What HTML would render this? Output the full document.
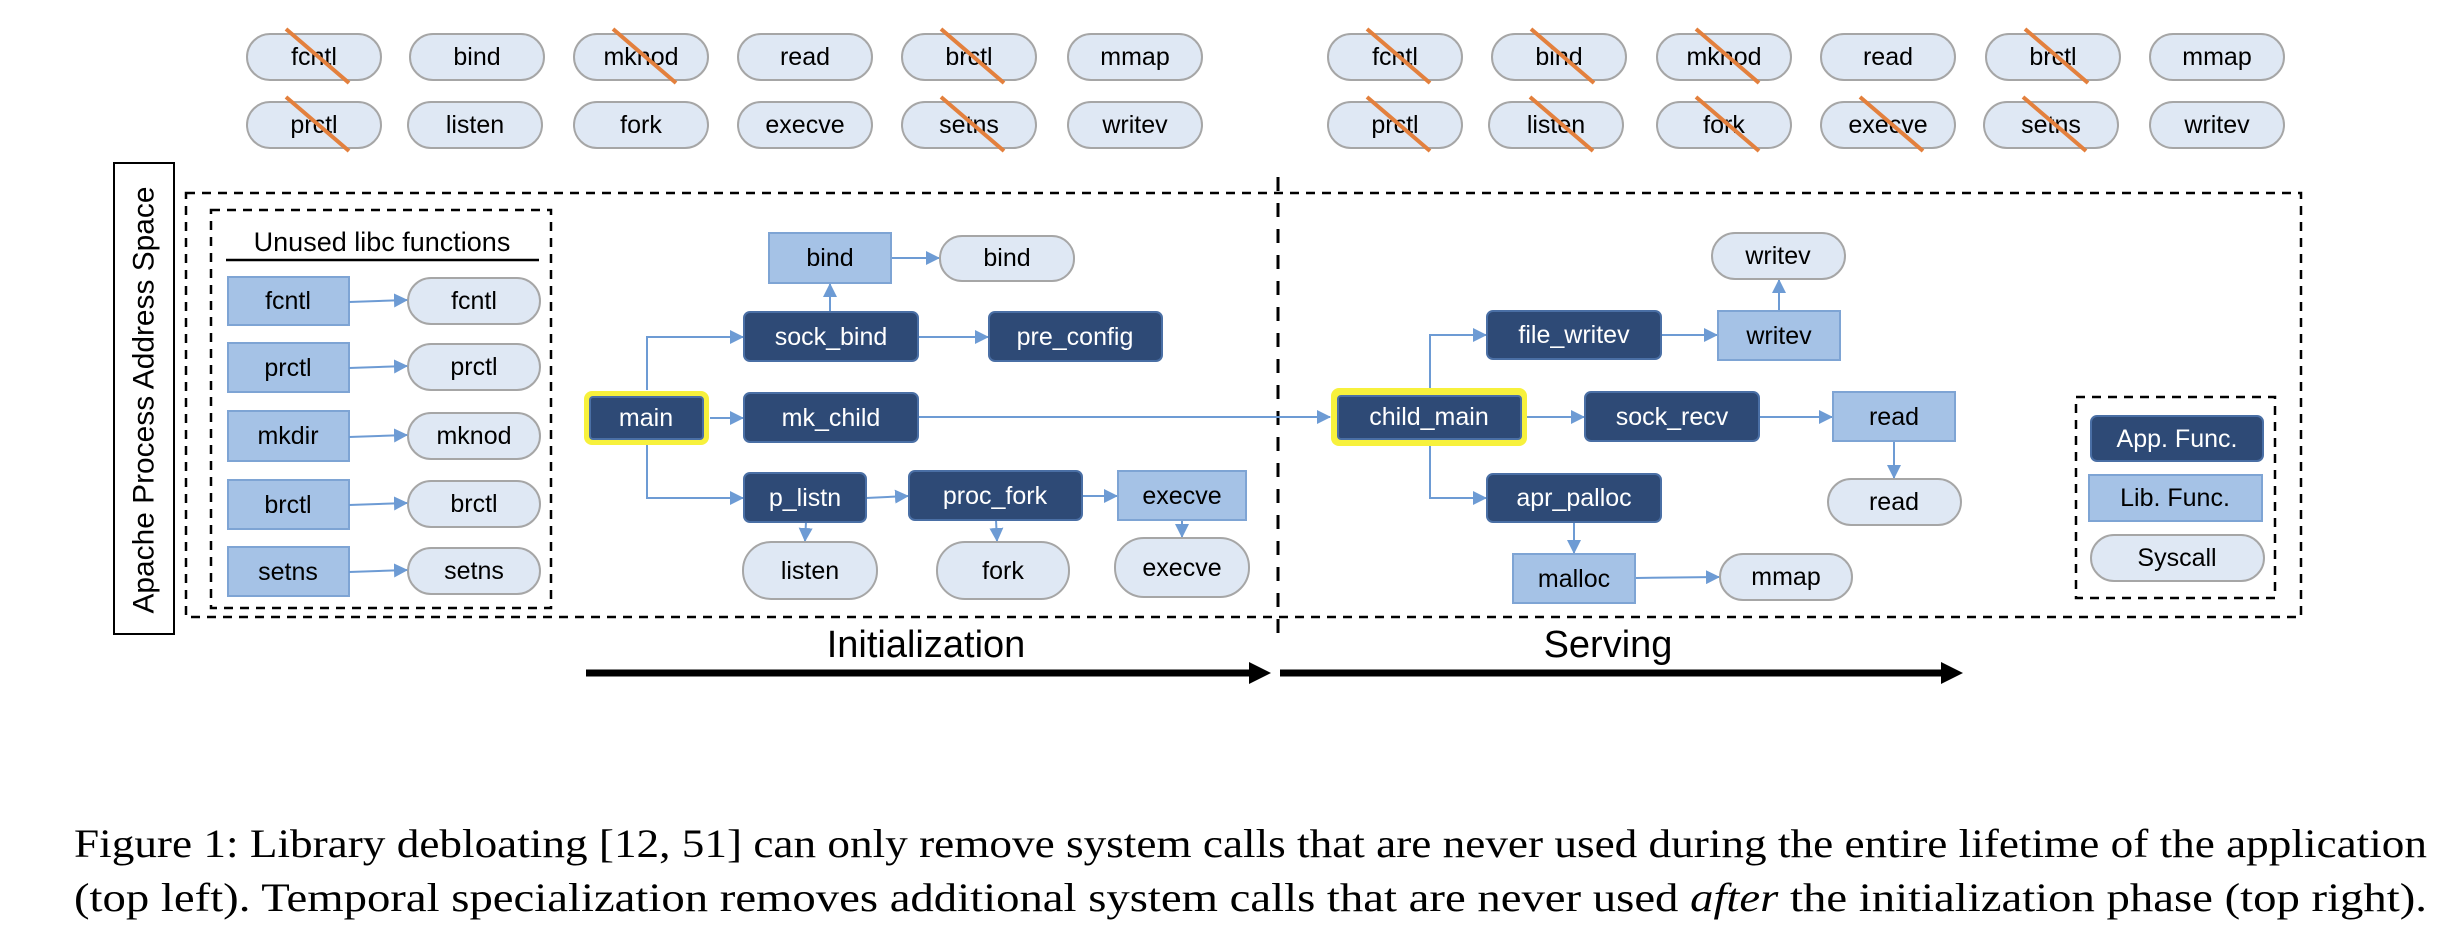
<!DOCTYPE html>
<html><head><meta charset="utf-8"><style>
html,body{margin:0;padding:0;background:#fff;}
svg{display:block;}
.t{font-family:"Liberation Sans",sans-serif;font-size:25px;text-anchor:middle;dominant-baseline:central;}
.w{fill:#fff;}
.k{fill:#000;}
.app{fill:#2e4a76;stroke:#4a6fa5;stroke-width:2;}
.lib{fill:#a5c2e6;stroke:#7ea4d4;stroke-width:2;}
.sys{fill:#dfe8f4;stroke:#a6a6a6;stroke-width:2;}
.c{stroke:#6d9bd4;stroke-width:2;fill:none;}
.x{stroke:#e3803d;stroke-width:4;}
.d{stroke:#000;stroke-width:2.5;fill:none;stroke-dasharray:9 7;}
</style></head><body>
<svg width="2458" height="946" viewBox="0 0 2458 946" xmlns="http://www.w3.org/2000/svg">
<defs>
<marker id="a2" markerWidth="14" markerHeight="14" refX="13" refY="7" orient="auto" markerUnits="userSpaceOnUse" viewBox="0 0 14 14"><path d="M0,0 L14,7 L0,14 z" fill="#6d9bd4"/></marker>
</defs>

<g>
<rect class="sys" x="247" y="34" width="134" height="46" rx="23"/><text class="t k" x="314" y="57">fcntl</text>
<rect class="sys" x="410" y="34" width="134" height="46" rx="23"/><text class="t k" x="477" y="57">bind</text>
<rect class="sys" x="574" y="34" width="134" height="46" rx="23"/><text class="t k" x="641" y="57">mknod</text>
<rect class="sys" x="738" y="34" width="134" height="46" rx="23"/><text class="t k" x="805" y="57">read</text>
<rect class="sys" x="902" y="34" width="134" height="46" rx="23"/><text class="t k" x="969" y="57">brctl</text>
<rect class="sys" x="1068" y="34" width="134" height="46" rx="23"/><text class="t k" x="1135" y="57">mmap</text>
<rect class="sys" x="247" y="102" width="134" height="46" rx="23"/><text class="t k" x="314" y="125">prctl</text>
<rect class="sys" x="408" y="102" width="134" height="46" rx="23"/><text class="t k" x="475" y="125">listen</text>
<rect class="sys" x="574" y="102" width="134" height="46" rx="23"/><text class="t k" x="641" y="125">fork</text>
<rect class="sys" x="738" y="102" width="134" height="46" rx="23"/><text class="t k" x="805" y="125">execve</text>
<rect class="sys" x="902" y="102" width="134" height="46" rx="23"/><text class="t k" x="969" y="125">setns</text>
<rect class="sys" x="1068" y="102" width="134" height="46" rx="23"/><text class="t k" x="1135" y="125">writev</text>
<line class="x" x1="286" y1="29" x2="349" y2="83"/>
<line class="x" x1="613" y1="29" x2="676" y2="83"/>
<line class="x" x1="941" y1="29" x2="1004" y2="83"/>
<line class="x" x1="286" y1="97" x2="349" y2="151"/>
<line class="x" x1="941" y1="97" x2="1004" y2="151"/>
</g>
<g>
<rect class="sys" x="1328" y="34" width="134" height="46" rx="23"/><text class="t k" x="1395" y="57">fcntl</text>
<rect class="sys" x="1492" y="34" width="134" height="46" rx="23"/><text class="t k" x="1559" y="57">bind</text>
<rect class="sys" x="1657" y="34" width="134" height="46" rx="23"/><text class="t k" x="1724" y="57">mknod</text>
<rect class="sys" x="1821" y="34" width="134" height="46" rx="23"/><text class="t k" x="1888" y="57">read</text>
<rect class="sys" x="1986" y="34" width="134" height="46" rx="23"/><text class="t k" x="2053" y="57">brctl</text>
<rect class="sys" x="2150" y="34" width="134" height="46" rx="23"/><text class="t k" x="2217" y="57">mmap</text>
<rect class="sys" x="1328" y="102" width="134" height="46" rx="23"/><text class="t k" x="1395" y="125">prctl</text>
<rect class="sys" x="1489" y="102" width="134" height="46" rx="23"/><text class="t k" x="1556" y="125">listen</text>
<rect class="sys" x="1657" y="102" width="134" height="46" rx="23"/><text class="t k" x="1724" y="125">fork</text>
<rect class="sys" x="1821" y="102" width="134" height="46" rx="23"/><text class="t k" x="1888" y="125">execve</text>
<rect class="sys" x="1984" y="102" width="134" height="46" rx="23"/><text class="t k" x="2051" y="125">setns</text>
<rect class="sys" x="2150" y="102" width="134" height="46" rx="23"/><text class="t k" x="2217" y="125">writev</text>
<line class="x" x1="1367" y1="29" x2="1430" y2="83"/>
<line class="x" x1="1531" y1="29" x2="1594" y2="83"/>
<line class="x" x1="1696" y1="29" x2="1759" y2="83"/>
<line class="x" x1="2025" y1="29" x2="2088" y2="83"/>
<line class="x" x1="1367" y1="97" x2="1430" y2="151"/>
<line class="x" x1="1530" y1="97" x2="1593" y2="151"/>
<line class="x" x1="1696" y1="97" x2="1759" y2="151"/>
<line class="x" x1="1860" y1="97" x2="1923" y2="151"/>
<line class="x" x1="2023" y1="97" x2="2086" y2="151"/>
</g>

<rect x="114" y="163" width="60" height="471" fill="#fff" stroke="#000" stroke-width="2"/>
<text class="t k" x="144" y="400" style="font-size:30px" transform="rotate(-90 144 400)" textLength="427" lengthAdjust="spacingAndGlyphs">Apache Process Address Space</text>

<rect class="d" x="186" y="193" width="2115" height="424"/>
<line x1="1278" y1="177" x2="1278" y2="645" stroke="#000" stroke-width="3" stroke-dasharray="14 12"/>
<rect class="d" x="211" y="210" width="340" height="398"/>
<rect class="d" x="2076" y="397" width="199" height="201"/>

<text class="t k" x="382" y="242" style="font-size:27px">Unused libc functions</text>
<line x1="226" y1="260" x2="539" y2="260" stroke="#000" stroke-width="2.5"/>
<g>
<rect class="lib" x="228" y="277" width="121" height="48"/><text class="t k" x="288" y="301">fcntl</text>
<rect class="sys" x="408" y="278" width="132" height="46" rx="23"/><text class="t k" x="474" y="301">fcntl</text>
<rect class="lib" x="228" y="343" width="121" height="49"/><text class="t k" x="288" y="368">prctl</text>
<rect class="sys" x="408" y="344" width="132" height="46" rx="23"/><text class="t k" x="474" y="367">prctl</text>
<rect class="lib" x="228" y="411" width="121" height="50"/><text class="t k" x="288" y="436">mkdir</text>
<rect class="sys" x="408" y="413" width="132" height="46" rx="23"/><text class="t k" x="474" y="436">mknod</text>
<rect class="lib" x="228" y="480" width="121" height="49"/><text class="t k" x="288" y="505">brctl</text>
<rect class="sys" x="408" y="481" width="132" height="46" rx="23"/><text class="t k" x="474" y="504">brctl</text>
<rect class="lib" x="228" y="547" width="121" height="49"/><text class="t k" x="288" y="572">setns</text>
<rect class="sys" x="408" y="548" width="132" height="46" rx="23"/><text class="t k" x="474" y="571">setns</text>
<line class="c" x1="349" y1="302" x2="407" y2="300" marker-end="url(#a2)"/>
<line class="c" x1="349" y1="368" x2="407" y2="366" marker-end="url(#a2)"/>
<line class="c" x1="349" y1="437" x2="407" y2="435" marker-end="url(#a2)"/>
<line class="c" x1="349" y1="505" x2="407" y2="503" marker-end="url(#a2)"/>
<line class="c" x1="349" y1="572" x2="407" y2="570" marker-end="url(#a2)"/>
</g>

<g>
<path class="c" d="M647,390 V337 H743" marker-end="url(#a2)"/>
<path class="c" d="M647,445 V498 H743" marker-end="url(#a2)"/>
<line class="c" x1="710" y1="418" x2="743" y2="418" marker-end="url(#a2)"/>
<line class="c" x1="918" y1="417" x2="1330" y2="417" marker-end="url(#a2)"/>
<line class="c" x1="830" y1="312" x2="830" y2="284" marker-end="url(#a2)"/>
<line class="c" x1="891" y1="258" x2="939" y2="258" marker-end="url(#a2)"/>
<line class="c" x1="918" y1="337" x2="988" y2="337" marker-end="url(#a2)"/>
<line class="c" x1="866" y1="498" x2="908" y2="496" marker-end="url(#a2)"/>
<line class="c" x1="1082" y1="496" x2="1117" y2="496" marker-end="url(#a2)"/>
<line class="c" x1="806" y1="522" x2="805" y2="541" marker-end="url(#a2)"/>
<line class="c" x1="996" y1="520" x2="997" y2="541" marker-end="url(#a2)"/>
<line class="c" x1="1182" y1="520" x2="1182" y2="537" marker-end="url(#a2)"/>

<rect x="584" y="391" width="125" height="54" rx="8" fill="#f7f13c"/>
<rect class="app" x="590" y="397" width="113" height="42" rx="3"/><text class="t w" x="646" y="418">main</text>
<rect class="app" x="744" y="393" width="174" height="49" rx="6"/><text class="t w" x="831" y="418">mk_child</text>
<rect class="app" x="744" y="312" width="174" height="49" rx="6"/><text class="t w" x="831" y="337">sock_bind</text>
<rect class="app" x="989" y="312" width="173" height="49" rx="6"/><text class="t w" x="1075" y="337">pre_config</text>
<rect class="lib" x="769" y="233" width="122" height="50"/><text class="t k" x="830" y="258">bind</text>
<rect class="sys" x="940" y="236" width="134" height="45" rx="22"/><text class="t k" x="1007" y="258">bind</text>
<rect class="app" x="744" y="473" width="122" height="49" rx="6"/><text class="t w" x="805" y="498">p_listn</text>
<rect class="app" x="909" y="471" width="173" height="49" rx="6"/><text class="t w" x="995" y="496">proc_fork</text>
<rect class="lib" x="1118" y="471" width="128" height="49"/><text class="t k" x="1182" y="496">execve</text>
<rect class="sys" x="743" y="542" width="134" height="57" rx="28"/><text class="t k" x="810" y="571">listen</text>
<rect class="sys" x="937" y="542" width="132" height="57" rx="28"/><text class="t k" x="1003" y="571">fork</text>
<rect class="sys" x="1115" y="538" width="134" height="59" rx="29"/><text class="t k" x="1182" y="568">execve</text>
</g>

<g>
<path class="c" d="M1430,388 V335 H1486" marker-end="url(#a2)"/>
<path class="c" d="M1430,446 V498 H1486" marker-end="url(#a2)"/>
<line class="c" x1="1527" y1="417" x2="1584" y2="417" marker-end="url(#a2)"/>
<line class="c" x1="1759" y1="417" x2="1832" y2="417" marker-end="url(#a2)"/>
<line class="c" x1="1894" y1="441" x2="1894" y2="478" marker-end="url(#a2)"/>
<line class="c" x1="1661" y1="335" x2="1717" y2="335" marker-end="url(#a2)"/>
<line class="c" x1="1779" y1="311" x2="1779" y2="280" marker-end="url(#a2)"/>
<line class="c" x1="1574" y1="522" x2="1574" y2="553" marker-end="url(#a2)"/>
<line class="c" x1="1635" y1="578" x2="1719" y2="577" marker-end="url(#a2)"/>

<rect x="1331" y="388" width="196" height="58" rx="8" fill="#f7f13c"/>
<rect class="app" x="1338" y="396" width="183" height="43" rx="3"/><text class="t w" x="1429" y="417">child_main</text>
<rect class="app" x="1585" y="392" width="174" height="49" rx="6"/><text class="t w" x="1672" y="417">sock_recv</text>
<rect class="lib" x="1833" y="392" width="122" height="49"/><text class="t k" x="1894" y="417">read</text>
<rect class="sys" x="1828" y="479" width="133" height="46" rx="23"/><text class="t k" x="1894" y="502">read</text>
<rect class="app" x="1487" y="311" width="174" height="48" rx="6"/><text class="t w" x="1574" y="335">file_writev</text>
<rect class="lib" x="1718" y="311" width="122" height="49"/><text class="t k" x="1779" y="336">writev</text>
<rect class="sys" x="1712" y="233" width="133" height="46" rx="23"/><text class="t k" x="1778" y="256">writev</text>
<rect class="app" x="1487" y="474" width="174" height="48" rx="6"/><text class="t w" x="1574" y="498">apr_palloc</text>
<rect class="lib" x="1513" y="554" width="122" height="49"/><text class="t k" x="1574" y="579">malloc</text>
<rect class="sys" x="1720" y="554" width="132" height="46" rx="23"/><text class="t k" x="1786" y="577">mmap</text>
</g>

<rect class="app" x="2091" y="416" width="172" height="45" rx="6"/><text class="t w" x="2177" y="439">App. Func.</text>
<rect class="lib" x="2089" y="475" width="173" height="46"/><text class="t k" x="2175" y="498">Lib. Func.</text>
<rect class="sys" x="2091" y="535" width="173" height="46" rx="23"/><text class="t k" x="2177" y="558">Syscall</text>

<text class="t k" x="926" y="645" style="font-size:38px">Initialization</text>
<text class="t k" x="1608" y="645" style="font-size:38px">Serving</text>
<line x1="586" y1="673" x2="1252" y2="673" stroke="#000" stroke-width="7"/>
<path d="M1249,662 L1271,673 L1249,684 z" fill="#000"/>
<line x1="1280" y1="673" x2="1944" y2="673" stroke="#000" stroke-width="7"/>
<path d="M1941,662 L1963,673 L1941,684 z" fill="#000"/>

<text x="74" y="857" font-family="'Liberation Serif',serif" font-size="40" textLength="2353" lengthAdjust="spacingAndGlyphs">Figure 1: Library debloating [12, 51] can only remove system calls that are never used during the entire lifetime of the application</text>
<text x="74" y="911" font-family="'Liberation Serif',serif" font-size="40" textLength="2353" lengthAdjust="spacingAndGlyphs">(top left). Temporal specialization removes additional system calls that are never used <tspan font-style="italic">after</tspan> the initialization phase (top right).</text>
</svg>
</body></html>
